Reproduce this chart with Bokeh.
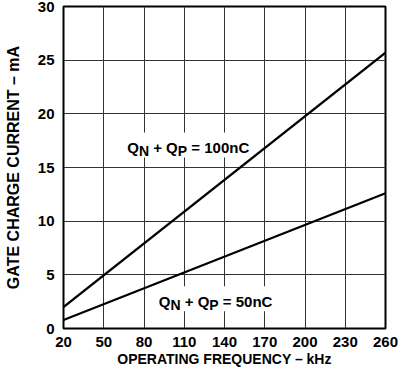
from bokeh.plotting import figure
from bokeh.models import FixedTicker, Label, Range1d
from bokeh.embed import file_html
from bokeh.resources import INLINE

# ---- data ----
freq_khz = [20, 260]
current_100nc = [2.0, 25.7]
current_50nc = [0.8, 12.6]
x_ticks = [20, 50, 80, 110, 140, 170, 200, 230, 260]
y_ticks = [0, 5, 10, 15, 20, 25, 30]
label_100 = {"x": 67.5, "y": 16.87, "main": " = 100nC"}
label_50 = {"x": 91.0, "y": 2.54, "main": " = 50nC"}

FONT = "Liberation Sans"
FRAME_W, FRAME_H = 322, 322
X0, X1, Y0, Y1 = 20, 260, 0, 30

p = figure(width=417, height=377,
           x_range=Range1d(X0, X1), y_range=Range1d(Y0, Y1),
           output_backend="svg", toolbar_location=None,
           min_border_left=63, min_border_right=32,
           min_border_top=6, min_border_bottom=49)

p.background_fill_color = "white"
p.border_fill_color = "white"
p.outline_line_color = "black"
p.outline_line_width = 2

for ax in (p.xaxis[0], p.yaxis[0]):
    ax.axis_line_color = None
    ax.major_tick_line_color = None
    ax.minor_tick_line_color = None
    ax.major_tick_in = 0
    ax.major_tick_out = 0
    ax.major_label_text_font = FONT
    ax.major_label_text_font_style = "bold"
    ax.major_label_text_font_size = "15px"
    ax.major_label_text_color = "black"
    ax.axis_label_text_font = FONT
    ax.axis_label_text_font_style = "bold"
    ax.axis_label_text_color = "black"

p.xaxis.axis_label_text_font_size = "14px"
p.yaxis.axis_label_text_font_size = "16px"
p.xaxis.ticker = FixedTicker(ticks=x_ticks)
p.yaxis.ticker = FixedTicker(ticks=y_ticks)
p.xaxis.axis_label = "OPERATING FREQUENCY – kHz"
p.yaxis.axis_label = "GATE CHARGE CURRENT – mA"
p.xaxis.major_label_standoff = 8
p.yaxis.major_label_standoff = 9
p.xaxis.axis_label_standoff = 1
p.yaxis.axis_label_standoff = 13

p.xgrid.ticker = FixedTicker(ticks=x_ticks)
p.ygrid.ticker = FixedTicker(ticks=y_ticks)
for g in (p.xgrid[0], p.ygrid[0]):
    g.grid_line_color = "#333333"
    g.grid_line_width = 1

px_x = FRAME_W / (X1 - X0)
px_y = FRAME_H / (Y1 - Y0)

# white boxes behind the annotation text (centre given relative to text anchor)
for spec, w, cx_off in ((label_100, 129, 60.8), (label_50, 121, 57.5)):
    p.rect(x=[spec["x"] + cx_off / px_x], y=[spec["y"] + 2.5 / px_y],
           width=w, height=25, width_units="screen", height_units="screen",
           fill_color="white", line_color=None)

p.line(freq_khz, current_100nc, line_color="black", line_width=2.2)
p.line(freq_khz, current_50nc, line_color="black", line_width=2.2)

# Liberation Sans Bold advance widths (em)
ADV = {"Q": 0.778, "N": 0.722, "P": 0.667, " ": 0.278, "+": 0.584, "=": 0.584,
       "0": 0.556, "1": 0.556, "5": 0.556, "n": 0.611, "C": 0.722}

def compose(spec):
    pieces = [("Q", 15, 0), ("N", 14, -4), (" + Q", 15, 0), ("P", 14, -4),
              (spec["main"], 15, 0)]
    dx = 0.0
    for txt, size, dy in pieces:
        lead = len(txt) - len(txt.lstrip(" "))
        start = dx + lead * ADV[" "] * size
        p.add_layout(Label(x=spec["x"], y=spec["y"], x_offset=start, y_offset=dy,
                           text=txt.strip(), text_font=FONT, text_font_style="bold",
                           text_font_size=f"{size}px", text_color="black",
                           text_baseline="alphabetic", text_align="left"))
        dx += sum(ADV[c] for c in txt) * size

compose(label_100)
compose(label_50)

open("out.html", "w").write(file_html(p, INLINE))
